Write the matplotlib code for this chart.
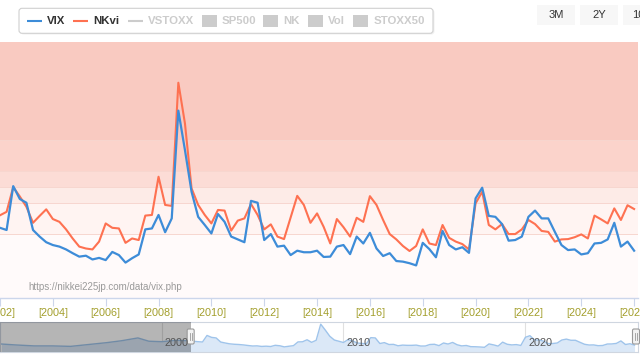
import numpy as np
import pandas as pd
import matplotlib
matplotlib.use("Agg")
import matplotlib.pyplot as plt
from matplotlib.patches import FancyBboxPatch, Rectangle

plt.rcParams['font.family'] = ['Liberation Sans', 'DejaVu Sans']

# ---------------- data (quarterly) ----------------
quarters = pd.date_range("2002-01-01", periods=97, freq="QS")

vix = [22.0, 21.3, 35.3, 31.2, 30.0, 21.3, 19.2, 17.4, 16.5, 16.0,
       15.1, 13.9, 12.8, 13.1, 11.9, 12.4, 11.7, 14.3, 13.3, 10.9,
       12.3, 13.5, 21.5, 21.8, 26.1, 20.6, 25.0, 59.4, 46.8, 33.5,
       25.5, 22.9, 20.2, 26.4, 23.9, 19.2, 18.3, 17.4, 30.6, 30.0,
       18.1, 20.0, 16.0, 16.3, 13.3, 14.7, 14.2, 14.2, 14.7, 12.7,
       12.8, 16.0, 16.5, 13.6, 19.2, 17.0, 20.4, 15.4, 13.0, 13.9,
       11.4, 11.2, 10.7, 10.0, 17.2, 15.2, 12.6, 21.0, 16.5, 15.1,
       15.8, 14.0, 31.4, 34.8, 25.8, 25.5, 23.2, 17.9, 18.1, 19.2,
       25.5, 27.5, 25.0, 25.0, 20.7, 16.5, 14.9, 15.1, 13.5, 13.9,
       17.0, 17.2, 18.3, 23.6, 16.0, 17.6, 14.7]

nkvi = [26.0, 27.1, 35.0, 32.0, 28.7, 23.6, 25.8, 27.9, 24.8, 23.9,
        21.5, 18.6, 16.0, 15.4, 15.1, 17.6, 23.4, 22.0, 21.8, 17.2,
        18.6, 18.1, 25.9, 26.1, 38.3, 29.3, 29.0, 68.3, 55.3, 34.6,
        29.3, 26.1, 23.4, 27.7, 27.5, 21.1, 24.3, 25.0, 29.6, 26.1,
        21.5, 23.1, 19.2, 18.4, 25.3, 32.2, 29.3, 23.6, 26.6, 22.3,
        17.0, 24.8, 22.2, 19.2, 25.2, 23.9, 32.1, 29.3, 24.5, 20.0,
        18.3, 16.2, 14.6, 16.2, 21.5, 17.0, 16.5, 22.9, 18.8, 17.6,
        16.8, 15.1, 29.8, 33.5, 22.9, 21.5, 23.2, 20.0, 20.0, 21.5,
        24.5, 23.2, 21.0, 20.7, 17.6, 18.3, 18.4, 19.0, 19.9, 18.6,
        25.9, 24.7, 23.4, 28.2, 24.5, 29.2, 28.0]

# navigator: earlier VIX history (rough yearly reading)
nav_early_years = [1991.2, 1992, 1993, 1994, 1995, 1996, 1997, 1997.8, 1998.7, 1999.3, 2000, 2000.8, 2001.5]
nav_early_vix = [17, 15, 13, 13, 12, 16, 20, 24, 30, 23, 22, 25, 24]

band_edges = [-0.4, 20, 30, 35, 40, 50, 81.3]
band_colors = ["#fffafa", "#fff4f2", "#fdebe7", "#fcdcd6", "#fbd3cb", "#f9cac1"]

tick_years = list(range(2002, 2027, 2))
tick_labels = ["[%d]" % y for y in tick_years]
nav_years = [2000, 2010, 2020]

legend_items = ["VIX", "NKvi", "VSTOXX", "SP500", "NK", "Vol", "STOXX50"]
buttons = ["3M", "2Y", "10Y"]

BLUE = "#3d8cd8"
ORANGE = "#fe7151"

t = np.array(quarters.year + (quarters.month - 1) / 12.0)

W, H = 640, 360
fig = plt.figure(figsize=(6.4, 3.6), dpi=100)


def fy(y):
    return 1 - y / H


# ---------------- main plot ----------------
ax = fig.add_axes([0, fy(298), 638 / W, 256 / H])
ax.set_xlim(2002.225, 2026.147)
ax.set_ylim(band_edges[0], band_edges[-1])
for i in range(len(band_colors)):
    ax.axhspan(band_edges[i], band_edges[i + 1], color=band_colors[i], lw=0, zorder=0)
for e in band_edges[1:-1]:
    ax.axhline(e, color="#f7d6cf", lw=0.7, zorder=0.5)

ax.plot(t, nkvi, color=ORANGE, lw=1.5, solid_joinstyle="round", zorder=3)
ax.plot(t, vix, color=BLUE, lw=1.6, solid_joinstyle="round", zorder=4)

for s in ["top", "left", "right"]:
    ax.spines[s].set_visible(False)
ax.spines["bottom"].set_color("#ccd6eb")
ax.spines["bottom"].set_linewidth(1.0)
ax.set_yticks([])
ax.set_xticks(tick_years)
ax.set_xticklabels(tick_labels)
ax.tick_params(axis="x", length=6, width=0.8, color="#ccd6eb",
               labelcolor="#a39f2c", labelsize=7.8, pad=1.5)
ax.patch.set_alpha(0)

# ---------------- navigator ----------------
nav = fig.add_axes([0, fy(352), 638 / W, 30 / H])
nav_lo, nav_hi = 1991.12, 2026.19
nav.set_xlim(nav_lo, nav_hi)
nav.set_ylim(0, 64)
nx = np.concatenate([nav_early_years, t])
ny = np.concatenate([nav_early_vix, vix])
for yr in nav_years:
    nav.axvline(yr, color="#e0e0e0", lw=0.8, zorder=0)
nav.fill_between(nx, 0, ny, color="#dbe8f7", lw=0, zorder=1)
nav.plot(nx, ny, color="#9fc4eb", lw=1.0, zorder=2)
mask_end = 2001.6
nav.axvspan(nav_lo, mask_end, color="black", alpha=0.29, lw=0, zorder=3)
nav.set_xticks([])
nav.set_yticks([])
for s in nav.spines.values():
    s.set_color("#cfd6e0")
    s.set_linewidth(0.8)


def nav_px(year):
    return (year - nav_lo) / (nav_hi - nav_lo) * 638


# ---------------- overlay in pixel coords ----------------
ov = fig.add_axes([0, 0, 1, 1])
ov.set_xlim(0, W)
ov.set_ylim(H, 0)
ov.axis("off")
ov.patch.set_alpha(0)

# watermark
ov.text(28, 287, "https://nikkei225jp.com/data/vix.php", fontsize=7.0,
        color="#9a9a9a", va="center", ha="left")

# legend
ov.add_patch(FancyBboxPatch((20.5, 9.5), 414, 25, boxstyle="round,pad=0,rounding_size=3",
                            fc="#000000", ec="none", alpha=0.06))
ov.add_patch(FancyBboxPatch((19, 8.3), 414, 25, boxstyle="round,pad=0,rounding_size=3",
                            fc="white", ec="#d0d0d0", lw=0.8))
ly = 21
leg_layout = [("line", 26.7, 41.7, 46.7), ("line", 72.7, 88.3, 93.3), ("line", 127.7, 142.7, 147.7),
              ("sq", 201.7, 216.7, 221.7), ("sq", 263.3, 278.3, 283.3), ("sq", 308.3, 323.3, 328.3),
              ("sq", 353.3, 368.3, 373.3)]
leg_cols = [BLUE, ORANGE, "#cccccc", "#cccccc", "#cccccc", "#cccccc", "#cccccc"]
for (kind, x0, x1, xt), name, c in zip(leg_layout, legend_items, leg_cols):
    if kind == "line":
        ov.plot([x0, x1], [ly, ly], color=c, lw=1.5, solid_capstyle="butt")
    else:
        ov.add_patch(Rectangle((x0, ly - 6.5), x1 - x0, 12.5, fc=c, ec="none"))
    tc = "#333333" if name in ("VIX", "NKvi") else "#cccccc"
    ov.text(xt, ly + 0.3, name, fontsize=8.2, fontweight="bold", color=tc, va="center", ha="left")

# range buttons
for (x0, x1), lab in zip([(537, 575), (580, 618), (623, 661)], buttons):
    ov.add_patch(Rectangle((x0, 5), x1 - x0, 20, fc="#f7f7f7", ec="none"))
    ov.text((x0 + x1) / 2, 15.5, lab, fontsize=8.0, color="#333333", ha="center", va="center")

# navigator labels
for yr in nav_years:
    ov.text(nav_px(yr) + 3, 343, str(yr), fontsize=7.8, color="#555555", ha="left", va="center")

# navigator handles
for hx in [nav_px(mask_end), 636]:
    ov.add_patch(FancyBboxPatch((hx - 3.5, 329), 7, 15, boxstyle="round,pad=0,rounding_size=1.5",
                                fc="#f2f2f2", ec="#999999", lw=0.8))
    ov.plot([hx - 1, hx - 1], [333, 340], color="#999999", lw=0.6)
    ov.plot([hx + 1, hx + 1], [333, 340], color="#999999", lw=0.6)

fig.savefig("out.png", dpi=100)
